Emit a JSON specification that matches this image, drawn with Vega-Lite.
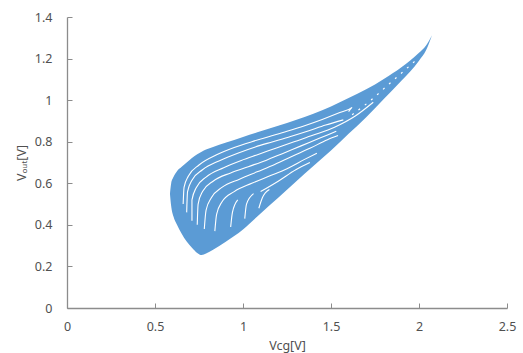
{
  "$schema": "https://vega.github.io/schema/vega-lite/v6.json",
  "width": 440,
  "height": 291,
  "autosize": {"type": "none"},
  "padding": {"left": 67, "top": 17, "right": 16, "bottom": 45},
  "background": "white",
  "config": {
    "view": {"stroke": null},
    "font": "Noto Sans",
    "axis": {
      "grid": false,
      "domainColor": "#8c8c8c",
      "domainWidth": 1.3,
      "tickColor": "#8c8c8c",
      "tickSize": -5,
      "labelColor": "#505050",
      "labelFontSize": 12.5,
      "titleColor": "#505050",
      "titleFontSize": 12.5,
      "titleFontWeight": "normal",
      "format": "~g"
    }
  },
  "datasets": {
    "band": [
      {"x": 0.585, "hi": 0.55, "lo": 0.55},
      {"x": 0.592, "hi": 0.60, "lo": 0.49},
      {"x": 0.605, "hi": 0.63, "lo": 0.44},
      {"x": 0.625, "hi": 0.658, "lo": 0.40},
      {"x": 0.65, "hi": 0.678, "lo": 0.36},
      {"x": 0.68, "hi": 0.70, "lo": 0.32},
      {"x": 0.71, "hi": 0.722, "lo": 0.29},
      {"x": 0.74, "hi": 0.74, "lo": 0.265},
      {"x": 0.765, "hi": 0.752, "lo": 0.255},
      {"x": 0.79, "hi": 0.763, "lo": 0.262},
      {"x": 0.83, "hi": 0.775, "lo": 0.28},
      {"x": 0.90, "hi": 0.795, "lo": 0.318},
      {"x": 1.00, "hi": 0.823, "lo": 0.378},
      {"x": 1.10, "hi": 0.85, "lo": 0.455},
      {"x": 1.20, "hi": 0.877, "lo": 0.53},
      {"x": 1.30, "hi": 0.905, "lo": 0.607},
      {"x": 1.40, "hi": 0.935, "lo": 0.683},
      {"x": 1.50, "hi": 0.97, "lo": 0.758},
      {"x": 1.60, "hi": 1.01, "lo": 0.838},
      {"x": 1.70, "hi": 1.052, "lo": 0.918},
      {"x": 1.80, "hi": 1.102, "lo": 1.005},
      {"x": 1.90, "hi": 1.158, "lo": 1.093},
      {"x": 2.00, "hi": 1.228, "lo": 1.19},
      {"x": 2.04, "hi": 1.263, "lo": 1.24},
      {"x": 2.074, "hi": 1.312, "lo": 1.312}
    ],
    "stripes": [
      {"id": "w1", "o": 1, "x": 0.66, "y": 0.50},
      {"id": "w1", "o": 2, "x": 0.665, "y": 0.58},
      {"id": "w1", "o": 3, "x": 0.69, "y": 0.635},
      {"id": "w1", "o": 4, "x": 0.75, "y": 0.688},
      {"id": "w1", "o": 5, "x": 0.85, "y": 0.737},
      {"id": "w1", "o": 6, "x": 0.95, "y": 0.772},
      {"id": "w1", "o": 7, "x": 1.05, "y": 0.80},
      {"id": "w1", "o": 8, "x": 1.15, "y": 0.825},
      {"id": "w1", "o": 9, "x": 1.25, "y": 0.85},
      {"id": "w1", "o": 10, "x": 1.35, "y": 0.877},
      {"id": "w1", "o": 11, "x": 1.45, "y": 0.907},
      {"id": "w1", "o": 12, "x": 1.55, "y": 0.94},
      {"id": "w1", "o": 13, "x": 1.62, "y": 0.965},
      {"id": "w1", "o": 14, "x": 1.60, "y": 0.945},
      {"id": "w2", "o": 1, "x": 0.68, "y": 0.46},
      {"id": "w2", "o": 2, "x": 0.685, "y": 0.56},
      {"id": "w2", "o": 3, "x": 0.71, "y": 0.615},
      {"id": "w2", "o": 4, "x": 0.77, "y": 0.665},
      {"id": "w2", "o": 5, "x": 0.87, "y": 0.71},
      {"id": "w2", "o": 6, "x": 0.97, "y": 0.745},
      {"id": "w2", "o": 7, "x": 1.07, "y": 0.775},
      {"id": "w2", "o": 8, "x": 1.17, "y": 0.80},
      {"id": "w2", "o": 9, "x": 1.27, "y": 0.825},
      {"id": "w2", "o": 10, "x": 1.37, "y": 0.852},
      {"id": "w2", "o": 11, "x": 1.47, "y": 0.88},
      {"id": "w2", "o": 12, "x": 1.57, "y": 0.905},
      {"id": "w3", "o": 1, "x": 0.71, "y": 0.42},
      {"id": "w3", "o": 2, "x": 0.71, "y": 0.52},
      {"id": "w3", "o": 3, "x": 0.735, "y": 0.58},
      {"id": "w3", "o": 4, "x": 0.79, "y": 0.63},
      {"id": "w3", "o": 5, "x": 0.89, "y": 0.675},
      {"id": "w3", "o": 6, "x": 0.99, "y": 0.71},
      {"id": "w3", "o": 7, "x": 1.09, "y": 0.74},
      {"id": "w3", "o": 8, "x": 1.19, "y": 0.77},
      {"id": "w3", "o": 9, "x": 1.29, "y": 0.80},
      {"id": "w3", "o": 10, "x": 1.40, "y": 0.832},
      {"id": "w3", "o": 11, "x": 1.52, "y": 0.87},
      {"id": "w3", "o": 12, "x": 1.64, "y": 0.925},
      {"id": "w3", "o": 13, "x": 1.74, "y": 0.99},
      {"id": "w4", "o": 1, "x": 0.74, "y": 0.40},
      {"id": "w4", "o": 2, "x": 0.745, "y": 0.50},
      {"id": "w4", "o": 3, "x": 0.77, "y": 0.56},
      {"id": "w4", "o": 4, "x": 0.83, "y": 0.61},
      {"id": "w4", "o": 5, "x": 0.93, "y": 0.65},
      {"id": "w4", "o": 6, "x": 1.03, "y": 0.68},
      {"id": "w4", "o": 7, "x": 1.13, "y": 0.71},
      {"id": "w4", "o": 8, "x": 1.23, "y": 0.745},
      {"id": "w4", "o": 9, "x": 1.33, "y": 0.78},
      {"id": "w4", "o": 10, "x": 1.43, "y": 0.815},
      {"id": "w4", "o": 11, "x": 1.53, "y": 0.85},
      {"id": "w5", "o": 1, "x": 0.78, "y": 0.38},
      {"id": "w5", "o": 2, "x": 0.79, "y": 0.47},
      {"id": "w5", "o": 3, "x": 0.82, "y": 0.53},
      {"id": "w5", "o": 4, "x": 0.88, "y": 0.58},
      {"id": "w5", "o": 5, "x": 0.98, "y": 0.62},
      {"id": "w5", "o": 6, "x": 1.08, "y": 0.655},
      {"id": "w5", "o": 7, "x": 1.18, "y": 0.69},
      {"id": "w5", "o": 8, "x": 1.28, "y": 0.73},
      {"id": "w5", "o": 9, "x": 1.38, "y": 0.768},
      {"id": "w5", "o": 10, "x": 1.48, "y": 0.81},
      {"id": "w5", "o": 11, "x": 1.54, "y": 0.83},
      {"id": "w6", "o": 1, "x": 0.84, "y": 0.37},
      {"id": "w6", "o": 2, "x": 0.85, "y": 0.45},
      {"id": "w6", "o": 3, "x": 0.88, "y": 0.51},
      {"id": "w6", "o": 4, "x": 0.95, "y": 0.56},
      {"id": "w6", "o": 5, "x": 1.05, "y": 0.60},
      {"id": "w6", "o": 6, "x": 1.15, "y": 0.635},
      {"id": "w6", "o": 7, "x": 1.25, "y": 0.67},
      {"id": "w6", "o": 8, "x": 1.35, "y": 0.715},
      {"id": "w6", "o": 9, "x": 1.42, "y": 0.745},
      {"id": "w7", "o": 1, "x": 1.10, "y": 0.56},
      {"id": "w7", "o": 2, "x": 1.20, "y": 0.61},
      {"id": "w7", "o": 3, "x": 1.30, "y": 0.665},
      {"id": "w7", "o": 4, "x": 1.38, "y": 0.70},
      {"id": "w8", "o": 1, "x": 0.93, "y": 0.39},
      {"id": "w8", "o": 2, "x": 0.94, "y": 0.46},
      {"id": "w8", "o": 3, "x": 0.97, "y": 0.52},
      {"id": "w9", "o": 1, "x": 1.01, "y": 0.43},
      {"id": "w9", "o": 2, "x": 1.02, "y": 0.50},
      {"id": "w9", "o": 3, "x": 1.06, "y": 0.55},
      {"id": "w10", "o": 1, "x": 1.09, "y": 0.48},
      {"id": "w10", "o": 2, "x": 1.11, "y": 0.53},
      {"id": "w10", "o": 3, "x": 1.15, "y": 0.57}
    ],
    "tipdash": [
      {"id": "t1", "o": 1, "x": 1.62, "y": 0.93},
      {"id": "t1", "o": 2, "x": 1.72, "y": 0.995},
      {"id": "t1", "o": 3, "x": 1.82, "y": 1.07},
      {"id": "t1", "o": 4, "x": 1.92, "y": 1.145},
      {"id": "t1", "o": 5, "x": 1.98, "y": 1.19}
    ]
  },
  "layer": [
    {
      "data": {"name": "band"},
      "mark": {"type": "area", "color": "#5B9BD5", "interpolate": "monotone", "orient": "vertical"},
      "encoding": {
        "x": {"field": "x", "type": "quantitative", "scale": {"domain": [0, 2.5], "nice": false},
              "axis": {"values": [0, 0.5, 1, 1.5, 2, 2.5], "title": "Vcg[V]", "labelPadding": 17, "titlePadding": 7, "labelFlush": false}},
        "y": {"field": "hi", "type": "quantitative", "scale": {"domain": [0, 1.4], "nice": false},
              "axis": {"values": [0, 0.2, 0.4, 0.6, 0.8, 1, 1.2, 1.4], "title": "Vₒᵤₜ[V]", "labelPadding": 20, "titlePadding": 6, "labelFlush": false}},
        "y2": {"field": "lo"}
      }
    },
    {
      "data": {"name": "stripes"},
      "mark": {"type": "line", "color": "white", "strokeWidth": 1.1, "interpolate": "monotone"},
      "encoding": {
        "x": {"field": "x", "type": "quantitative"},
        "y": {"field": "y", "type": "quantitative"},
        "detail": {"field": "id"},
        "order": {"field": "o"}
      }
    },
    {
      "data": {"name": "tipdash"},
      "mark": {"type": "line", "color": "white", "strokeWidth": 1.2, "strokeDash": [2, 6], "interpolate": "monotone"},
      "encoding": {
        "x": {"field": "x", "type": "quantitative"},
        "y": {"field": "y", "type": "quantitative"},
        "detail": {"field": "id"},
        "order": {"field": "o"}
      }
    }
  ]
}
